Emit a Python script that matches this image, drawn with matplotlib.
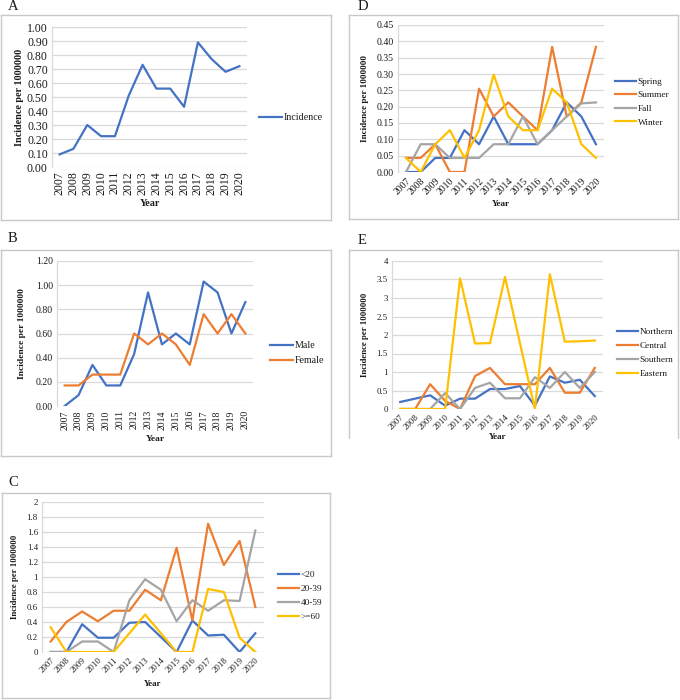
import matplotlib
matplotlib.use("Agg")
import matplotlib.pyplot as plt
from matplotlib.patches import Rectangle
from matplotlib.lines import Line2D

plt.rcParams['font.family'] = ['Liberation Serif', 'DejaVu Serif']

years = [str(y) for y in range(2007, 2021)]

# Panel A
incidence = [0.09, 0.13, 0.30, 0.22, 0.22, 0.51, 0.73, 0.56, 0.56, 0.43, 0.89, 0.77, 0.68, 0.72]

# Panel B
male = [0.00, 0.09, 0.34, 0.17, 0.17, 0.43, 0.94, 0.51, 0.60, 0.51, 1.03, 0.94, 0.60, 0.86]
female = [0.17, 0.17, 0.26, 0.26, 0.26, 0.60, 0.51, 0.60, 0.51, 0.34, 0.76, 0.60, 0.76, 0.60]

# Panel C
age_lt20 = [0.00, 0.00, 0.37, 0.19, 0.19, 0.39, 0.40, 0.20, 0.00, 0.42, 0.22, 0.23, 0.00, 0.25]
age_20_39 = [0.14, 0.40, 0.54, 0.41, 0.55, 0.55, 0.83, 0.69, 1.39, 0.42, 1.71, 1.16, 1.48, 0.60]
age_40_59 = [0.00, 0.00, 0.14, 0.14, 0.00, 0.69, 0.97, 0.83, 0.41, 0.69, 0.55, 0.69, 0.68, 1.62]
age_ge60 = [0.33, 0.00, 0.00, 0.00, 0.00, 0.25, 0.50, 0.25, 0.00, 0.00, 0.84, 0.80, 0.19, 0.00]

# Panel D
spring = [0.000, 0.000, 0.043, 0.043, 0.128, 0.085, 0.170, 0.085, 0.085, 0.085, 0.128, 0.213, 0.170, 0.085]
summer = [0.043, 0.043, 0.085, 0.000, 0.000, 0.255, 0.170, 0.213, 0.170, 0.128, 0.383, 0.170, 0.213, 0.383]
fall = [0.000, 0.085, 0.085, 0.043, 0.043, 0.043, 0.085, 0.085, 0.170, 0.085, 0.128, 0.170, 0.210, 0.213]
winter = [0.043, 0.000, 0.085, 0.128, 0.043, 0.128, 0.298, 0.170, 0.128, 0.128, 0.255, 0.213, 0.085, 0.043]

# Panel E
northern = [0.19, 0.28, 0.37, 0.09, 0.28, 0.28, 0.54, 0.54, 0.62, 0.09, 0.88, 0.71, 0.79, 0.35]
central = [0.00, 0.00, 0.67, 0.22, 0.00, 0.89, 1.11, 0.67, 0.67, 0.67, 1.11, 0.44, 0.44, 1.11]
southern = [0.00, 0.00, 0.00, 0.43, 0.00, 0.57, 0.71, 0.29, 0.29, 0.86, 0.57, 1.00, 0.57, 1.00]
eastern = [0.00, 0.00, 0.00, 0.00, 3.53, 1.77, 1.78, 3.57, 1.78, 0.00, 3.64, 1.82, 1.83, 1.85]

BLUE = '#4472C4'
ORANGE = '#ED7D31'
GRAY = '#A5A5A5'
YELLOW = '#FFC000'
GRID = '#d9d9d9'
TXT = '#1a1a1a'

W, H = 680, 700
fig = plt.figure(figsize=(6.8, 7.0), dpi=100)


def fx(px):
    return px / W


def fy(py):
    return 1 - py / H


def box(x0, y0, x1, y1, bottom=True):
    c = '#c8c8c8'
    lw = 1.0
    fig.add_artist(Line2D([fx(x0), fx(x1)], [fy(y0), fy(y0)], color=c, lw=lw))
    fig.add_artist(Line2D([fx(x0), fx(x0)], [fy(y0), fy(y1)], color=c, lw=lw))
    fig.add_artist(Line2D([fx(x1), fx(x1)], [fy(y0), fy(y1)], color=c, lw=lw))
    if bottom:
        fig.add_artist(Line2D([fx(x0), fx(x1)], [fy(y1), fy(y1)], color=c, lw=lw))


def panel(rect_px, series, ymax, ystep, fmt, rot, legend_xy, ylabel_x, year_y, letter,
          letter_xy, legend_spacing, tick_fs, leg_fs, lab_fs):
    l, r, t, b = rect_px
    ax = fig.add_axes([fx(l), fy(b), fx(r) - fx(l), fy(t) - fy(b)])
    x = list(range(len(years)))
    for name, vals, col in series:
        ax.plot(x, vals, color=col, lw=1.6, label=name, solid_joinstyle='round')
    ax.set_xlim(-0.55, len(years) - 0.45)
    ax.set_ylim(0, ymax)
    n = int(round(ymax / ystep))
    ticks = [i * ystep for i in range(n + 1)]
    ax.set_yticks(ticks)
    ax.set_yticklabels([fmt(v) for v in ticks], fontsize=tick_fs, color=TXT)
    ax.set_xticks(x)
    if rot == 90:
        ax.set_xticklabels(years, rotation=90, fontsize=tick_fs, color=TXT)
    else:
        ax.set_xticklabels(years, rotation=45, ha='right', rotation_mode='anchor',
                           fontsize=tick_fs, color=TXT)
    ax.tick_params(axis='both', length=0, pad=3)
    ax.grid(axis='y', color=GRID, lw=0.9)
    ax.set_axisbelow(True)
    for s in ['top', 'right', 'bottom']:
        ax.spines[s].set_visible(False)
    ax.spines['left'].set_color(GRID)
    ax.spines['left'].set_linewidth(0.9)
    fig.text(fx(ylabel_x), fy((t + b) / 2), 'Incidence per 1000000', rotation=90,
             ha='center', va='center', fontsize=lab_fs, fontweight='bold', color=TXT)
    fig.text(fx((l + r) / 2), fy(year_y), 'Year', ha='center', va='center',
             fontsize=lab_fs, fontweight='bold', color=TXT)
    fig.text(fx(letter_xy[0]), fy(letter_xy[1]), letter, ha='left', va='center',
             fontsize=10.5, color=TXT)
    ax.legend(loc='center left', bbox_to_anchor=(fx(legend_xy[0]), fy(legend_xy[1])),
              bbox_transform=fig.transFigure, frameon=False, fontsize=leg_fs,
              handlelength=2.3, handletextpad=0.15, labelspacing=legend_spacing,
              borderpad=0, borderaxespad=0, labelcolor=TXT)
    return ax


# Boxes
box(1, 15, 331, 220)
box(349, 15, 678, 219)
box(1, 250, 331, 456)
box(349, 250, 678, 445, bottom=False)
box(2, 493, 330, 698)

# A
panel((52, 247, 27, 167), [('Incidence', incidence, BLUE)], 1.0, 0.1,
      lambda v: f'{v:.2f}', 90, (259, 118), 20, 203, 'A', (8, 6), 0.5,
      8.5, 7.2, 7.3)

# D
panel((398, 604, 25, 172), [('Spring', spring, BLUE), ('Summer', summer, ORANGE),
                             ('Fall', fall, GRAY), ('Winter', winter, YELLOW)],
      0.45, 0.05, lambda v: f'{v:.2f}', 45, (615, 102), 365, 204, 'D', (358, 6), 0.55,
      7, 6.7, 6.6)

# B
panel((57, 253, 261, 406), [('Male', male, BLUE), ('Female', female, ORANGE)],
      1.2, 0.2, lambda v: f'{v:.2f}', 90, (270, 353), 22, 439, 'B', (8, 239), 0.6,
      7, 7.2, 6.8)

# E
panel((392, 603, 261, 409), [('Northern', northern, BLUE), ('Central', central, ORANGE),
                             ('Southern', southern, GRAY), ('Eastern', eastern, YELLOW)],
      4, 0.5, lambda v: f'{v:g}', 45, (617, 353), 365, 437, 'E', (358, 240), 0.6,
      6.3, 6.7, 6.3)

# C
panel((42, 264, 502, 652), [('<20', age_lt20, BLUE), ('20-39', age_20_39, ORANGE),
                            ('40-59', age_40_59, GRAY), ('>=60', age_ge60, YELLOW)],
      2, 0.2, lambda v: f'{v:g}', 45, (278, 596), 15, 684, 'C', (8, 482), 0.6,
      6.3, 6.7, 6.3)

# clip bottom of panel E like the reference
fig.add_artist(Rectangle((fx(345), 0), fx(680) - fx(345), fy(439), facecolor='white',
                         edgecolor='none', zorder=10))

fig.savefig('out.png', dpi=100, facecolor='white')
